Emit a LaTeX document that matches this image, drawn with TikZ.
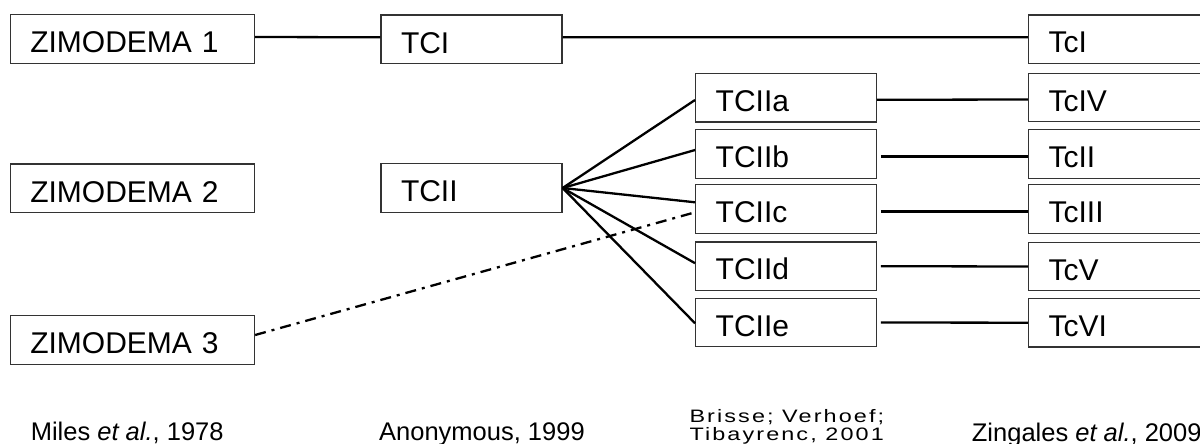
\documentclass[tikz,border=0pt]{standalone}
\usepackage{fontspec}
\setmainfont{Liberation Sans}
\newfontfamily\trackfont[LetterSpace=9]{Liberation Sans}
\begin{document}
\begin{tikzpicture}[x=1pt,y=-1pt,
  box/.style={draw=black!80, line width=1.3pt, rectangle, minimum height=48.5pt,
    inner xsep=20pt, inner ysep=0pt, text height=27.5pt, text depth=0pt,
    align=left, font=\fontsize{30}{36}\selectfont, anchor=center},
  zbox/.style={box, text width=204.2pt},
  tbox/.style={box, text width=141pt},
  sbox/.style={box, text width=140.6pt},
  cbox/.style={box, text width=200pt},
  conn/.style={line width=2.3pt, black},
  ddash/.style={conn, dash pattern=on 11pt off 6pt on 3pt off 6pt},
  cite/.style={font=\fontsize{25.5}{30}\selectfont, anchor=base west, inner sep=0pt},
  brcite/.style={font=\trackfont\fontsize{18}{20}\selectfont, anchor=base west, inner sep=0pt}]
\useasboundingbox (0,0) rectangle (1200,444);
\clip (0,0) rectangle (1200,444);
% column 1
\node[zbox] (z1) at (132.4,39) {ZIMODEMA 1};
\node[zbox] (z2) at (132.4,188.3) {ZIMODEMA 2};
\node[zbox] (z3) at (132.4,340) {ZIMODEMA 3};
% column 2
\node[tbox] (tci) at (471.5,39.3) {TCI};
\node[tbox] (tcii) at (471.5,188) {TCII};
% column 3
\node[sbox] (a) at (786,97.8) {TCIIa};
\node[sbox] (b) at (786,154) {TCIIb};
\node[sbox] (c) at (786,209) {TCIIc};
\node[sbox] (d) at (786,266.2) {TCIId};
\node[sbox] (e) at (786,322.5) {TCIIe};
% column 4
\node[cbox] (t1) at (1148.6,39.2) {TcI};
\node[cbox] (t4) at (1148.6,97.5) {TcIV};
\node[cbox] (t2) at (1148.6,154) {TcII};
\node[cbox] (t3) at (1148.6,209) {TcIII};
\node[cbox] (t5) at (1148.6,266.5) {TcV};
\node[cbox] (t6) at (1148.6,322.7) {TcVI};
% connectors
\draw[conn] ([yshift=2pt]z1.east) -- ([yshift=2pt]tci.west);
\draw[conn] ([yshift=2pt]tci.east) -- ([yshift=2pt]t1.west);
\draw[conn] (tcii.east) -- ([yshift=-2.2pt]a.west);
\draw[conn] (tcii.east) -- ([yshift=4pt]b.west);
\draw[conn] (tcii.east) -- ([yshift=6.7pt]c.west);
\draw[conn] (tcii.east) -- ([yshift=3pt]d.west);
\draw[conn] (tcii.east) -- ([yshift=-0.8pt]e.west);
\draw[ddash] ([yshift=5pt]z3.east) -- ([yshift=-3.3pt]c.west);
\draw[conn] ([yshift=-2pt]a.east) -- ([yshift=-2pt]t4.west);
\draw[conn, shorten <=4pt] ([yshift=-2.5pt]b.east) -- ([yshift=-2.5pt]t2.west);
\draw[conn, shorten <=4pt] ([yshift=-2.5pt]c.east) -- ([yshift=-2.5pt]t3.west);
\draw[conn, shorten <=4pt] (d.east) -- (t5.west);
\draw[conn, shorten <=4pt] (e.east) -- (t6.west);
% citations
\node[cite] (miles) at (30.6,440) {Miles \textit{et al.}, 1978};
\node[cite] (anon) at (379,440) {Anonymous, 1999};
\node[brcite] (br1) at (689.3,422.5) {\scalebox{1.3}[1]{Brisse; Verhoef;}};
\node[brcite] (br2) at (689.3,440) {\scalebox{1.3}[1]{Tibayrenc, 2001}};
\node[cite] (zing) at (971.7,441.5) {Zingales \textit{et al.}, 2009};
\end{tikzpicture}
\end{document}
